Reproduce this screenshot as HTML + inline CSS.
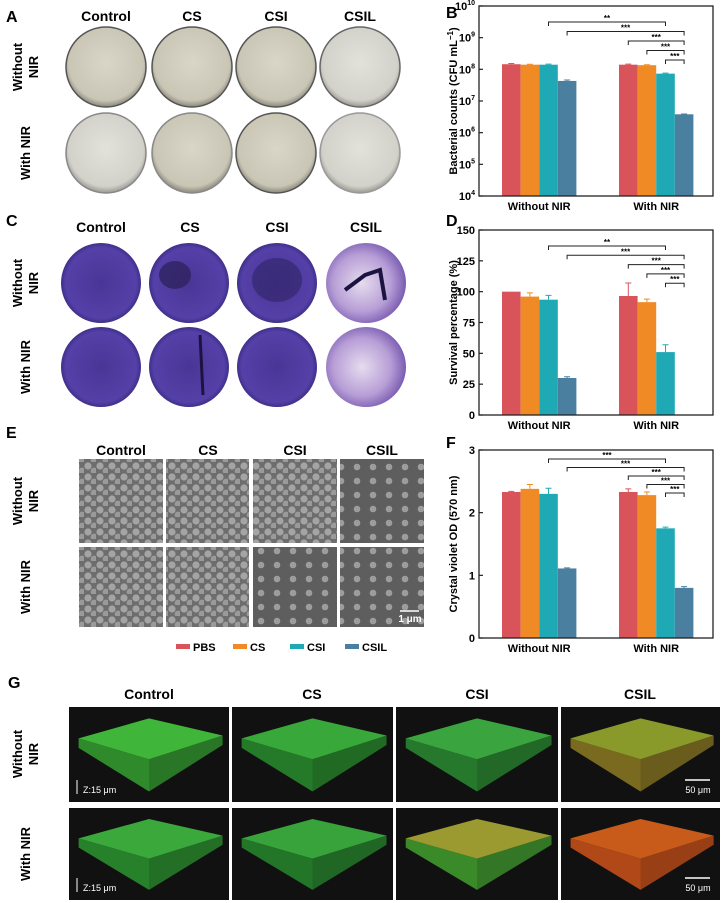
<!DOCTYPE html>
<html><head><meta charset="utf-8"><style>
body{margin:0;background:#fff}
svg{display:block;font-family:"Liberation Sans",Arial,sans-serif}
.t{font-weight:bold;font-size:14px;text-anchor:middle}
.pl{font-weight:bold;font-size:16px}
.rl{font-weight:bold;font-size:13px;text-anchor:middle}
.tk{font-weight:bold;font-size:11px}
</style></head><body>
<svg id="fig" width="728" height="903" viewBox="0 0 728 903">
<defs>
<radialGradient id="agar" cx="50%" cy="45%" r="55%"><stop offset="0" stop-color="#d9d6c8"/><stop offset="0.85" stop-color="#c9c6b6"/><stop offset="1" stop-color="#8a877c"/></radialGradient>
<radialGradient id="agar2" cx="50%" cy="45%" r="55%"><stop offset="0" stop-color="#e2e1da"/><stop offset="0.85" stop-color="#d2d1ca"/><stop offset="1" stop-color="#9a9892"/></radialGradient>
<radialGradient id="purp" cx="50%" cy="50%" r="55%"><stop offset="0" stop-color="#4a3596"/><stop offset="0.8" stop-color="#5540a8"/><stop offset="1" stop-color="#2d2270"/></radialGradient>
<radialGradient id="purpL" cx="45%" cy="50%" r="60%"><stop offset="0" stop-color="#e6dcef"/><stop offset="0.6" stop-color="#b79ed6"/><stop offset="1" stop-color="#6a4aa8"/></radialGradient>
<pattern id="cells" width="12" height="11" patternUnits="userSpaceOnUse"><rect width="12" height="11" fill="#6d6d6d"/><circle cx="4" cy="4" r="3.6" fill="#a4a4a4"/><circle cx="10" cy="9" r="3.4" fill="#9a9a9a"/></pattern>
<pattern id="cells2" width="16" height="14" patternUnits="userSpaceOnUse"><rect width="16" height="14" fill="#5e5e5e"/><circle cx="5" cy="5" r="3.3" fill="#9d9d9d"/></pattern>
</defs>

<text class="pl" x="6" y="22">A</text>
<g>
<text class="t" x="106" y="21">Control</text><text class="t" x="192" y="21">CS</text><text class="t" x="276" y="21">CSI</text><text class="t" x="360" y="21">CSIL</text></g>
<g>
<text class="rl" transform="translate(22,67) rotate(-90)">Without</text><text class="rl" transform="translate(38,67) rotate(-90)">NIR</text>
<text class="rl" transform="translate(30,153) rotate(-90)">With NIR</text></g>
<g>
<circle cx="106" cy="67" r="40" fill="url(#agar)" stroke="#555" stroke-width="1.5"/>
<circle cx="192" cy="67" r="40" fill="url(#agar)" stroke="#555" stroke-width="1.5"/>
<circle cx="276" cy="67" r="40" fill="url(#agar)" stroke="#555" stroke-width="1.5"/>
<circle cx="360" cy="67" r="40" fill="url(#agar2)" stroke="#666" stroke-width="1.5"/>
<circle cx="106" cy="153" r="40" fill="url(#agar2)" stroke="#888" stroke-width="1.5"/>
<circle cx="192" cy="153" r="40" fill="url(#agar)" stroke="#888" stroke-width="1.5"/>
<circle cx="276" cy="153" r="40" fill="url(#agar)" stroke="#555" stroke-width="1.5"/>
<circle cx="360" cy="153" r="40" fill="url(#agar2)" stroke="#999" stroke-width="1.5"/>
</g>

<text class="pl" x="6" y="226">C</text>
<g>
<text class="t" x="101" y="232">Control</text><text class="t" x="190" y="232">CS</text><text class="t" x="277" y="232">CSI</text><text class="t" x="366" y="232">CSIL</text></g>
<g>
<text class="rl" transform="translate(22,283) rotate(-90)">Without</text><text class="rl" transform="translate(38,283) rotate(-90)">NIR</text>
<text class="rl" transform="translate(30,367) rotate(-90)">With NIR</text></g>
<g>
<circle cx="101" cy="283" r="40" fill="url(#purp)"/>
<circle cx="189" cy="283" r="40" fill="url(#purp)"/><ellipse cx="175" cy="275" rx="16" ry="14" fill="#2a1f55" opacity=".7"/>
<circle cx="277" cy="283" r="40" fill="url(#purp)"/><ellipse cx="277" cy="280" rx="25" ry="22" fill="#2e2466" opacity=".6"/>
<circle cx="366" cy="283" r="40" fill="url(#purpL)"/><path d="M345 290 L365 275 L380 270 L385 300" stroke="#1c1440" stroke-width="4" fill="none"/>
<circle cx="101" cy="367" r="40" fill="url(#purp)"/>
<circle cx="189" cy="367" r="40" fill="url(#purp)"/><path d="M200 335 L203 395" stroke="#1c1440" stroke-width="3"/>
<circle cx="277" cy="367" r="40" fill="url(#purp)"/>
<circle cx="366" cy="367" r="40" fill="url(#purpL)"/>
</g>

<text class="pl" x="6" y="438">E</text>
<g>
<text class="t" x="121" y="455">Control</text><text class="t" x="208" y="455">CS</text><text class="t" x="295" y="455">CSI</text><text class="t" x="382" y="455">CSIL</text></g>
<g>
<text class="rl" transform="translate(22,501) rotate(-90)">Without</text><text class="rl" transform="translate(38,501) rotate(-90)">NIR</text>
<text class="rl" transform="translate(30,587) rotate(-90)">With NIR</text></g>
<g>
<rect x="79" y="459" width="84" height="84" fill="url(#cells)"/>
<rect x="166" y="459" width="83" height="84" fill="url(#cells)"/>
<rect x="253" y="459" width="84" height="84" fill="url(#cells)"/>
<rect x="340" y="459" width="84" height="84" fill="url(#cells2)"/>
<rect x="79" y="547" width="84" height="80" fill="url(#cells)"/>
<rect x="166" y="547" width="83" height="80" fill="url(#cells)"/>
<rect x="253" y="547" width="84" height="80" fill="url(#cells2)"/>
<rect x="340" y="547" width="84" height="80" fill="url(#cells2)"/>
<line x1="400" y1="611" x2="419" y2="611" stroke="#fff" stroke-width="1.5"/>
<text x="410" y="622" fill="#fff" font-size="10" font-weight="bold" text-anchor="middle">1 μm</text>
</g>

<g>
<g><rect x="176" y="644" width="14" height="5" fill="#d9545a"/><text class="tk" x="193" y="651">PBS</text></g>
<g><rect x="233" y="644" width="14" height="5" fill="#f08a24"/><text class="tk" x="250" y="651">CS</text></g>
<g><rect x="290" y="644" width="14" height="5" fill="#1fa9b5"/><text class="tk" x="307" y="651">CSI</text></g>
<g><rect x="345" y="644" width="14" height="5" fill="#4a7fa0"/><text class="tk" x="362" y="651">CSIL</text></g>
</g>

<text class="pl" x="446" y="18">B</text>
<text class="pl" x="446" y="226">D</text>
<text class="pl" x="446" y="448">F</text>
<g id="charts"></g>

<text class="pl" x="8" y="688">G</text>
<g>
<text class="t" x="149" y="699">Control</text><text class="t" x="312" y="699">CS</text><text class="t" x="477" y="699">CSI</text><text class="t" x="640" y="699">CSIL</text></g>
<g>
<text class="rl" transform="translate(22,754) rotate(-90)">Without</text><text class="rl" transform="translate(38,754) rotate(-90)">NIR</text>
<text class="rl" transform="translate(30,854) rotate(-90)">With  NIR</text></g>
<g id="confocal"></g>
</svg>
<script>
const groups = ["Without NIR", "With NIR"];
const series = ["PBS", "CS", "CSI", "CSIL"];
const colors = ["#d9545a", "#f08a24", "#1fa9b5", "#4a7fa0"];
const bWithout = [1.45e8, 1.4e8, 1.4e8, 4.3e7];
const bWith = [1.4e8, 1.35e8, 7.3e7, 3.8e6];
const bErrWithout = [0.08e8, 0.05e8, 0.06e8, 0.3e7];
const bErrWith = [0.06e8, 0.05e8, 0.3e7, 0.1e6];
const bTicks = [4, 5, 6, 7, 8, 9, 10];
const dWithout = [100, 96, 93.5, 30];
const dWith = [96.5, 91.5, 51, 0];
const dErrWithout = [0, 3, 3.5, 1];
const dErrWith = [10.5, 2.5, 6, 0];
const dTicks = [0, 25, 50, 75, 100, 125, 150];
const fWithout = [2.33, 2.38, 2.30, 1.11];
const fWith = [2.33, 2.28, 1.75, 0.80];
const fErrWithout = [0.01, 0.07, 0.09, 0.01];
const fErrWith = [0.05, 0.05, 0.02, 0.02];
const fTicks = [0, 1, 2, 3];
const sigLabelsBD = ["**", "***", "***", "***", "***"];
const sigLabelsF = ["***", "***", "***", "***", "***"];
const sigFromGroup = [0, 0, 1, 1, 1];
const sigFromSeries = [2, 3, 0, 1, 2];
const sigToSeries = [2, 3, 3, 3, 3];

const NS = "http://www.w3.org/2000/svg";
const root = document.getElementById("charts");
function mk(tag, attrs, parent) {
  const e = document.createElementNS(NS, tag);
  for (const k in attrs) e.setAttribute(k, attrs[k]);
  (parent || root).appendChild(e);
  return e;
}
const X0 = 479, X1 = 713, BW = 18.6;
const groupStart = [502, 619];
function xBar(g, s) { return groupStart[g] + s * BW; }

function chart(name, top, bottom, yfun, ticks, tickText, vals, errs, title, sigY0, bracketStep, sigLabels) {
  const g = mk("g", {});
  
  
  for (let gi = 0; gi < 2; gi++) {
    for (let s = 0; s < 4; s++) {
      const v = vals[gi][s], e = errs[gi][s];
      const y = yfun(v);
      const r = mk("rect", { x: xBar(gi, s), y: y, width: BW, height: Math.max(0, bottom - y), fill: colors[s] }, g);
      
      
      if (e > 0) {
        const cx = xBar(gi, s) + BW / 2, ye = yfun(v + e);
        mk("path", { d: `M${cx} ${y}V${ye}M${cx - 3} ${ye}H${cx + 3}`, stroke: colors[s], "stroke-width": 1, fill: "none" }, g);
      }
    }
  }
  const fr = mk("rect", { x: X0, y: top, width: X1 - X0, height: bottom - top, fill: "none", stroke: "#222", "stroke-width": 1.3 }, g);
  
  
  ticks.forEach((t) => {
    const y = yfun(t);
    mk("line", { x1: X0, x2: X0 + 4, y1: y, y2: y, stroke: "#222", "stroke-width": 1.2 }, g);
    const tx = mk("text", { x: X0 - 4, y: y + 4, "text-anchor": "end", class: "tk", "font-size": 11.5 }, g);
    
    
    tickText(tx, t);
  });
  groups.forEach((gn, gi) => {
    const tx = mk("text", { x: groupStart[gi] + 2 * BW, y: bottom + 14, "text-anchor": "middle", class: "tk", "font-size": 13 }, g);
    
    
    tx.textContent = gn;
  });
  const yt = mk("text", { transform: `translate(457,${(top + bottom) / 2}) rotate(-90)`, "text-anchor": "middle", class: "tk", "font-size": 12 }, g);
  
  
  title(yt);
  sigLabels.forEach((lab, i) => {
    const xa = xBar(sigFromGroup[i], sigFromSeries[i]) + BW / 2;
    const xb = xBar(1, sigToSeries[i]) + BW / 2;
    const y = sigY0 + i * bracketStep;
    const p = mk("path", { d: `M${xa} ${y + 4}V${y}H${xb}V${y + 4}`, stroke: "#222", "stroke-width": 1, fill: "none" }, g);
    
    
    const t = mk("text", { x: (xa + xb) / 2, y: y - 1, "text-anchor": "middle", "font-size": 8, "font-weight": "bold" }, g);
    t.textContent = lab;
  });
}
chart("chart-b-bacterial-counts", 6, 196, v => 196 - (Math.log10(v) - 4) * 31.67, bTicks.map(t => Math.pow(10, t)),
  (tx, t) => { const ex = Math.round(Math.log10(t)); tx.textContent = "10"; const ts = mk("tspan", { dy: -5, "font-size": 7 }, tx); ts.textContent = ex; },
  [bWithout, bWith], [bErrWithout, bErrWith],
  yt => { yt.textContent = "Bacterial counts (CFU mL"; const ts = mk("tspan", { dy: -4, "font-size": 8 }, yt); ts.textContent = "−1"; const t2 = mk("tspan", { dy: 4 }, yt); t2.textContent = ")"; },
  22, 9.5, sigLabelsBD);
chart("chart-d-survival", 230, 415, v => 415 - v / 150 * 185, dTicks, (tx, t) => tx.textContent = t,
  [dWithout, dWith], [dErrWithout, dErrWith], yt => yt.textContent = "Survival percentage (%)", 246, 9.3, sigLabelsBD);
chart("chart-f-crystal-violet", 450, 638, v => 638 - v / 3 * 188, fTicks, (tx, t) => tx.textContent = t,
  [fWithout, fWith], [fErrWithout, fErrWith], yt => yt.textContent = "Crystal violet OD (570 nm)", 459, 8.5, sigLabelsF);

const conf = document.getElementById("confocal");
const tileX = [69, 232, 396, 561];
const tileW = [160, 161, 162, 159];
const rowsY = [707, 808], rowsH = [95, 92];
const topCol = [["#3fb53a", "#38a83a", "#3aa53f", "#8a9a2a"], ["#3aa83a", "#38a33a", "#9a9a30", "#c85a1a"]];
const sideCol = [["#2e8a2a", "#247a28", "#26782c", "#7a6a20"], ["#27802a", "#237528", "#3a8a2a", "#b04818"]];
for (let r = 0; r < 2; r++) for (let c = 0; c < 4; c++) {
  const x = tileX[c], y = rowsY[r], w = tileW[c], h = rowsH[r];
  const tile = mk("g", {}, conf);
  
  
  mk("rect", { x, y, width: w, height: h, fill: "#111" }, tile);
  const L = [x + w * 0.06, y + h * 0.33], T = [x + w * 0.5, y + h * 0.12], R = [x + w * 0.96, y + h * 0.3];
  const B = [x + w * 0.5, y + h * 0.55], D = 0.34 * h;
  mk("polygon", { points: `${L} ${B} ${B[0]},${B[1] + D} ${L[0]},${L[1] + 0.1 * h}`, fill: sideCol[r][c] }, tile);
  mk("polygon", { points: `${B} ${R} ${R[0]},${R[1] + 0.1 * h} ${B[0]},${B[1] + D}`, fill: sideCol[r][c], opacity: 0.85 }, tile);
  mk("polygon", { points: `${L} ${T} ${R} ${B}`, fill: topCol[r][c] }, tile);
  if (c === 0) {
    mk("line", { x1: x + 8, y1: y + h - 8, x2: x + 8, y2: y + h - 22, stroke: "#fff", "stroke-width": 1 }, tile);
    const t = mk("text", { x: x + 14, y: y + h - 9, fill: "#fff", "font-size": 9 }, tile); t.textContent = "Z:15 μm";
  }
  if (c === 3) {
    mk("line", { x1: x + w - 35, y1: y + h - 22, x2: x + w - 10, y2: y + h - 22, stroke: "#fff", "stroke-width": 1.5 }, tile);
    const t = mk("text", { x: x + w - 22, y: y + h - 9, fill: "#fff", "font-size": 9, "text-anchor": "middle" }, tile); t.textContent = "50 μm";
  }
}
</script>
</body></html>
